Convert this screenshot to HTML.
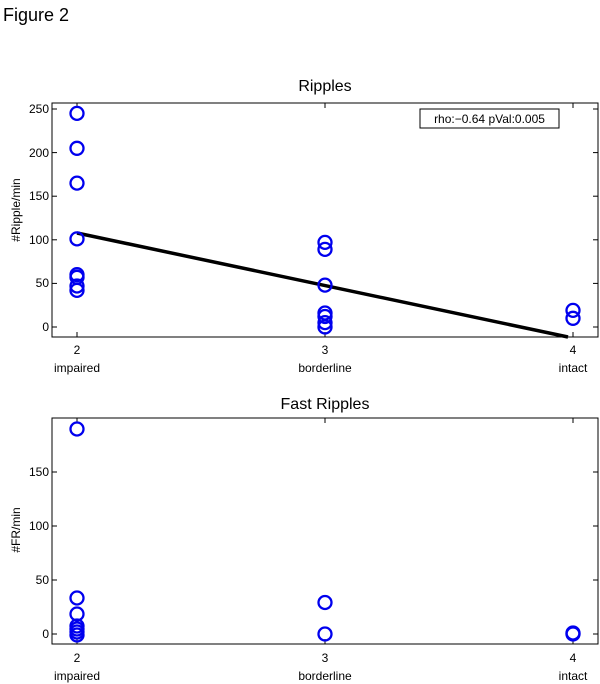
<!DOCTYPE html>
<html><head><style>body{margin:0;background:#fff}svg{display:block}text{font-family:"Liberation Sans",sans-serif;fill:#000}</style></head><body>
<svg width="600" height="684" viewBox="0 0 600 684">
<text x="3" y="21" font-size="18">Figure 2</text>
<!-- Top plot -->
<text x="325" y="91" font-size="16" text-anchor="middle">Ripples</text>
<rect x="52" y="103" width="546" height="234" fill="none" stroke="#000" stroke-width="1"/>
<g stroke="#000" stroke-width="1">
<line x1="52" y1="327" x2="57" y2="327"/><line x1="52" y1="283.4" x2="57" y2="283.4"/><line x1="52" y1="239.8" x2="57" y2="239.8"/><line x1="52" y1="196.2" x2="57" y2="196.2"/><line x1="52" y1="152.6" x2="57" y2="152.6"/><line x1="52" y1="109" x2="57" y2="109"/>
<line x1="598" y1="327" x2="593" y2="327"/><line x1="598" y1="283.4" x2="593" y2="283.4"/><line x1="598" y1="239.8" x2="593" y2="239.8"/><line x1="598" y1="196.2" x2="593" y2="196.2"/><line x1="598" y1="152.6" x2="593" y2="152.6"/><line x1="598" y1="109" x2="593" y2="109"/>
<line x1="77" y1="337" x2="77" y2="332"/><line x1="325" y1="337" x2="325" y2="332"/><line x1="573" y1="337" x2="573" y2="332"/>
<line x1="77" y1="103" x2="77" y2="108"/><line x1="325" y1="103" x2="325" y2="108"/><line x1="573" y1="103" x2="573" y2="108"/>
</g>
<g font-size="12" text-anchor="end">
<text x="49" y="331">0</text><text x="49" y="287">50</text><text x="49" y="244">100</text><text x="49" y="200">150</text><text x="49" y="157">200</text><text x="49" y="113">250</text>
</g>
<g font-size="12" text-anchor="middle">
<text x="77" y="354">2</text><text x="77" y="372">impaired</text>
<text x="325" y="354">3</text><text x="325" y="372">borderline</text>
<text x="573" y="354">4</text><text x="573" y="372">intact</text>
</g>
<text transform="translate(20,210) rotate(-90)" font-size="12" text-anchor="middle">#Ripple/min</text>
<rect x="420" y="109" width="139" height="19" fill="#fff" stroke="#000" stroke-width="1"/>
<text x="489.5" y="123" font-size="12" text-anchor="middle">rho:−0.64 pVal:0.005</text>
<line x1="77" y1="233" x2="568" y2="337" stroke="#000" stroke-width="3.5"/>
<g fill="none" stroke="#0000ee" stroke-width="2.3">
<ellipse cx="77" cy="113.4" rx="6.5" ry="6.5"/><ellipse cx="77" cy="148.3" rx="6.5" ry="6.5"/><ellipse cx="77" cy="183.1" rx="6.5" ry="6.5"/><ellipse cx="77" cy="238.9" rx="6.5" ry="6.5"/><ellipse cx="77" cy="274.7" rx="6.5" ry="6.5"/><ellipse cx="77" cy="277.3" rx="6.5" ry="6.5"/><ellipse cx="77" cy="286" rx="6.5" ry="6.5"/><ellipse cx="77" cy="290.4" rx="6.5" ry="6.5"/>
<ellipse cx="325" cy="242.4" rx="6.5" ry="6.5"/><ellipse cx="325" cy="249.4" rx="6.5" ry="6.5"/><ellipse cx="325" cy="285.1" rx="6.5" ry="6.5"/><ellipse cx="325" cy="313" rx="6.5" ry="6.5"/><ellipse cx="325" cy="316.5" rx="6.5" ry="6.5"/><ellipse cx="325" cy="322.6" rx="6.5" ry="6.5"/><ellipse cx="325" cy="327" rx="6.5" ry="6.5"/>
<ellipse cx="573" cy="310.4" rx="6.5" ry="6.5"/><ellipse cx="573" cy="318.3" rx="6.5" ry="6.5"/>
</g>
<!-- Bottom plot -->
<text x="325" y="409" font-size="16" text-anchor="middle">Fast Ripples</text>
<rect x="52" y="418" width="546" height="226" fill="none" stroke="#000" stroke-width="1"/>
<g stroke="#000" stroke-width="1">
<line x1="52" y1="634" x2="57" y2="634"/><line x1="52" y1="580" x2="57" y2="580"/><line x1="52" y1="526" x2="57" y2="526"/><line x1="52" y1="472" x2="57" y2="472"/>
<line x1="598" y1="634" x2="593" y2="634"/><line x1="598" y1="580" x2="593" y2="580"/><line x1="598" y1="526" x2="593" y2="526"/><line x1="598" y1="472" x2="593" y2="472"/>
<line x1="77" y1="644" x2="77" y2="639"/><line x1="325" y1="644" x2="325" y2="639"/><line x1="573" y1="644" x2="573" y2="639"/>
<line x1="77" y1="418" x2="77" y2="423"/><line x1="325" y1="418" x2="325" y2="423"/><line x1="573" y1="418" x2="573" y2="423"/>
</g>
<g font-size="12" text-anchor="end">
<text x="49" y="638">0</text><text x="49" y="584">50</text><text x="49" y="530">100</text><text x="49" y="476">150</text>
</g>
<g font-size="12" text-anchor="middle">
<text x="77" y="662">2</text><text x="77" y="680">impaired</text>
<text x="325" y="662">3</text><text x="325" y="680">borderline</text>
<text x="573" y="662">4</text><text x="573" y="680">intact</text>
</g>
<text transform="translate(20,530) rotate(-90)" font-size="12" text-anchor="middle">#FR/min</text>
<g fill="none" stroke="#0000ee" stroke-width="2.3">
<ellipse cx="77" cy="429" rx="6.5" ry="6.5"/><ellipse cx="77" cy="598" rx="6.5" ry="6.5"/><ellipse cx="77" cy="614" rx="6.5" ry="6.5"/><ellipse cx="77" cy="626" rx="6.5" ry="6.5"/><ellipse cx="77" cy="629" rx="6.5" ry="6.5"/><ellipse cx="77" cy="632" rx="6.5" ry="6.5"/><ellipse cx="77" cy="635" rx="6.5" ry="6.5"/>
<ellipse cx="325" cy="602.5" rx="6.5" ry="6.5"/><ellipse cx="325" cy="634" rx="6.5" ry="6.5"/>
<ellipse cx="573" cy="634" rx="6.5" ry="6.5"/><ellipse cx="573" cy="633" rx="6.5" ry="6.5"/>
</g>
</svg>
</body></html>
